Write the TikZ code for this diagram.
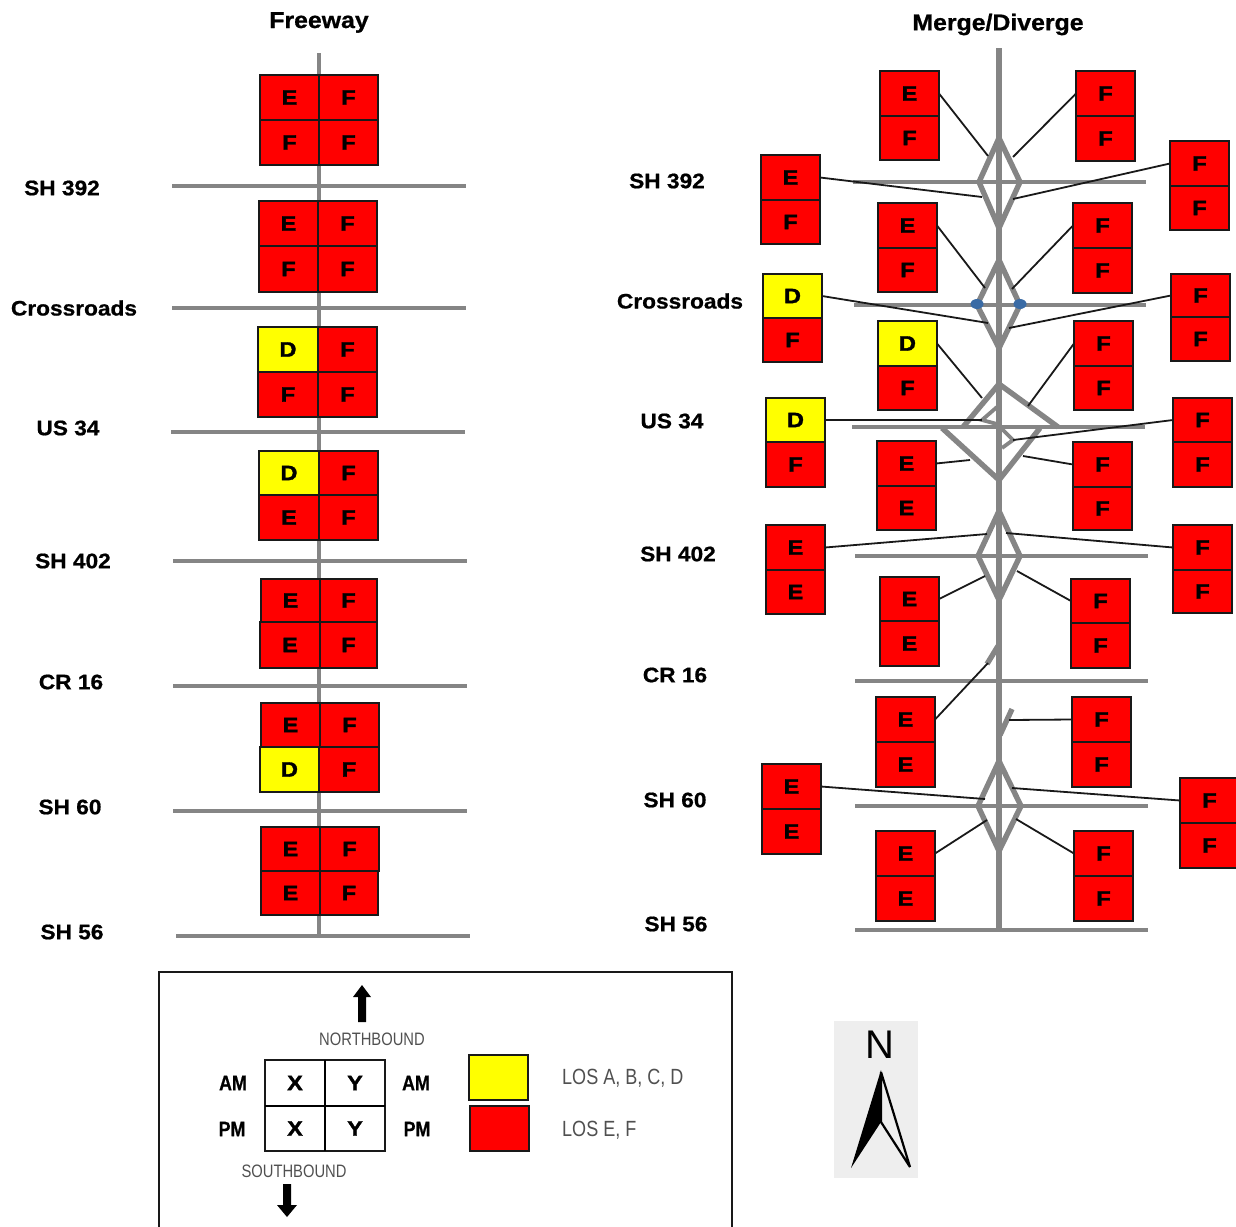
\documentclass[tikz,border=0pt]{standalone}
\usepackage{fontspec}
\setmainfont{Liberation Sans}
\newfontfamily\labfont[FakeStretch=1.08,BoldFeatures={FakeBold=0.8}]{Liberation Sans}
\newfontfamily\cellfont[FakeStretch=1.12,BoldFeatures={FakeBold=1.6}]{Liberation Sans}
\newfontfamily\narrowfont[FakeStretch=0.82]{Liberation Sans}
\newfontfamily\ampmfont[FakeStretch=0.85,BoldFeatures={FakeBold=0.6}]{Liberation Sans}
\definecolor{roadgray}{HTML}{858585}
\definecolor{losred}{HTML}{FF0000}
\definecolor{losyellow}{HTML}{FFFF00}
\definecolor{legendgray}{HTML}{505050}
\definecolor{compassbg}{HTML}{EEEEEE}
\definecolor{dotblue}{HTML}{3A6BA5}
\tikzset{
  road/.style={draw=roadgray,line width=4.8pt},
  ramp/.style={draw=roadgray,line width=5.4pt,line join=miter},
  leader/.style={draw=black!90,line width=1.8pt},
  cellbox/.style={draw=black!90,line width=1.6pt,inner sep=0pt,outer sep=0pt,font=\cellfont\bfseries\fontsize{21}{21}\selectfont},
  title/.style={inner sep=0pt,yshift=-2.5pt,font=\labfont\bfseries\fontsize{23}{24}\selectfont},
  roadlabel/.style={inner sep=0pt,yshift=-1pt,font=\labfont\bfseries\fontsize{21}{22}\selectfont},
  ampm/.style={inner sep=0pt,font=\ampmfont\bfseries\fontsize{21}{22}\selectfont},
  legendtext/.style={inner sep=0pt,text=legendgray,font=\narrowfont\fontsize{18}{20}\selectfont},
  lostext/.style={inner sep=0pt,anchor=west,yshift=-1.5pt,text=legendgray,font=\narrowfont\fontsize{22}{24}\selectfont},
}
% name, x1, y1, x2, y2, fill, letter
\newcommand{\mycell}[7]{%
  \pgfmathsetmacro{\cx}{(#2+#4)/2}\pgfmathsetmacro{\cy}{(#3+#5)/2}%
  \pgfmathsetmacro{\cw}{#4-#2}\pgfmathsetmacro{\ch}{#5-#3}%
  \node[cellbox,fill=#6,minimum width=\cw pt,minimum height=\ch pt] (#1) at (\cx,\cy) {\raisebox{-1pt}{#7}};}
\newcommand{\mypair}[8][losred]{%
  \pgfmathsetmacro{\xr}{#3+59}%
  \mycell{#2t}{#3}{#4}{\xr}{#5}{#1}{#7}%
  \mycell{#2b}{#3}{#5}{\xr}{#6}{losred}{#8}}
\begin{document}
\begin{tikzpicture}[x=1pt,y=-1pt]
\useasboundingbox (0,0) rectangle (1236,1226);
% Titles
\node[title] (tf) at (319,20) {Freeway};
\node[title] (tm) at (998,22) {Merge/Diverge};
% ---- Freeway roads
\draw[road] (319,53) -- (319,938);
\foreach \a/\b/\y in {172/466/186,172/466/308,171/465/432,173/467/561,173/467/686,173/467/811,176/470/936}
  \draw[road] (\a,\y) -- (\b,\y);
% Freeway labels
\node[roadlabel] (l1) at (62,187) {SH 392};
\node[roadlabel] (l2) at (74,307) {Crossroads};
\node[roadlabel] (l3) at (68,427) {US 34};
\node[roadlabel] (l4) at (73,560) {SH 402};
\node[roadlabel] (l5) at (71,681) {CR 16};
\node[roadlabel] (l6) at (70,806) {SH 60};
\node[roadlabel] (l7) at (72,931) {SH 56};
% Freeway cells
\mycell{f1a}{260}{75}{319}{120}{losred}{E}\mycell{f1b}{319}{75}{378}{120}{losred}{F}
\mycell{f1c}{260}{120}{319}{165}{losred}{F}\mycell{f1d}{319}{120}{378}{165}{losred}{F}
\mycell{f2a}{259}{201}{318}{246}{losred}{E}\mycell{f2b}{318}{201}{377}{246}{losred}{F}
\mycell{f2c}{259}{246}{318}{292}{losred}{F}\mycell{f2d}{318}{246}{377}{292}{losred}{F}
\mycell{f3a}{258}{327}{318}{372}{losyellow}{D}\mycell{f3b}{318}{327}{377}{372}{losred}{F}
\mycell{f3c}{258}{372}{318}{417}{losred}{F}\mycell{f3d}{318}{372}{377}{417}{losred}{F}
\mycell{f4a}{259}{451}{319}{495}{losyellow}{D}\mycell{f4b}{319}{451}{378}{495}{losred}{F}
\mycell{f4c}{259}{495}{319}{540}{losred}{E}\mycell{f4d}{319}{495}{378}{540}{losred}{F}
\mycell{f5a}{261}{579}{320}{622}{losred}{E}\mycell{f5b}{320}{579}{377}{622}{losred}{F}
\mycell{f5c}{260}{622}{320}{668}{losred}{E}\mycell{f5d}{320}{622}{377}{668}{losred}{F}
\mycell{f6a}{261}{703}{320}{747}{losred}{E}\mycell{f6b}{320}{703}{379}{747}{losred}{F}
\mycell{f6c}{260}{747}{319}{792}{losyellow}{D}\mycell{f6d}{319}{747}{379}{792}{losred}{F}
\mycell{f7a}{261}{827}{320}{871}{losred}{E}\mycell{f7b}{320}{827}{379}{871}{losred}{F}
\mycell{f7c}{261}{871}{320}{915}{losred}{E}\mycell{f7d}{320}{871}{378}{915}{losred}{F}
% ---- Merge/diverge roads
\draw[road,line width=5.4pt] (999,48) -- (999,930);
\draw[road] (853,182) -- (1146,182);
\draw[road,line width=3.6pt] (854,305) -- (1146,305);
\draw[road] (852,427) -- (1145,427);
\draw[road] (855,556) -- (1148,556);
\draw[road] (855,681) -- (1148,681);
\draw[road] (855,806) -- (1148,806);
\draw[road] (855,930) -- (1148,930);
% Diamonds
\draw[ramp] (999,138) -- (979,182) -- (999,228) -- (1020,182) -- cycle;
\draw[ramp] (999,260) -- (977,305) -- (999,348) -- (1020,305) -- cycle;
\draw[ramp] (963,427) -- (999,384) -- (1058,427);
\draw[ramp] (942,428) -- (999,480) -- (1040,428);
\draw[ramp,line width=3.8pt] (997,407) -- (982,420) -- (997,424);
\draw[ramp,line width=3.8pt] (1001,428) -- (1013,440) -- (1002,448);
\draw[ramp] (999,511) -- (978,556) -- (999,600) -- (1020,556) -- cycle;
\draw[ramp] (998,646) -- (987,664);
\draw[ramp] (1012,709) -- (1000,735);
\draw[ramp] (999,761) -- (978,806) -- (999,851) -- (1021,806) -- cycle;
\fill[dotblue] (977,304) ellipse (6.5pt and 5pt);
\fill[dotblue] (1020,304) ellipse (6.5pt and 5pt);
% Merge/diverge labels
\node[roadlabel] (r1) at (667,180) {SH 392};
\node[roadlabel] (r2) at (680,300) {Crossroads};
\node[roadlabel] (r3) at (672,420) {US 34};
\node[roadlabel] (r4) at (678,553) {SH 402};
\node[roadlabel] (r5) at (675,674) {CR 16};
\node[roadlabel] (r6) at (675,799) {SH 60};
\node[roadlabel] (r7) at (676,923) {SH 56};
% Merge/diverge cells: name, x left, top, mid, bottom, letters
\mypair{a}{880}{71}{116}{160}{E}{F}
\mypair{b}{1076}{71}{116}{161}{F}{F}
\mypair{c}{761}{155}{200}{244}{E}{F}
\mypair{d}{1170}{141}{186}{230}{F}{F}
\mypair{e}{878}{203}{248}{292}{E}{F}
\mypair{g}{1073}{203}{248}{293}{F}{F}
\mypair[losyellow]{h}{763}{274}{318}{362}{D}{F}
\mypair{i}{1171}{274}{317}{361}{F}{F}
\mypair[losyellow]{j}{878}{321}{366}{410}{D}{F}
\mypair{k}{1074}{321}{366}{410}{F}{F}
\mypair[losyellow]{m}{766}{398}{442}{487}{D}{F}
\mypair{n}{1173}{398}{442}{487}{F}{F}
\mypair{o}{877}{441}{486}{530}{E}{E}
\mypair{p}{1073}{442}{487}{530}{F}{F}
\mypair{q}{766}{525}{570}{614}{E}{E}
\mypair{r}{1173}{525}{570}{613}{F}{F}
\mypair{s}{880}{577}{621}{666}{E}{E}
\mypair{u}{1071}{579}{623}{668}{F}{F}
\mypair{v}{876}{697}{742}{787}{E}{E}
\mypair{w}{1072}{697}{742}{787}{F}{F}
\mypair{y}{762}{764}{809}{854}{E}{E}
\mypair{z}{1180}{778}{823}{868}{F}{F}
\mypair{aa}{876}{831}{876}{921}{E}{E}
\mypair{ab}{1074}{831}{876}{921}{F}{F}
% Leader ends
\foreach \n/\x/\y in {pa/988/156,pb/1013/157,pc/982/197,pd/1013/199,pe/985/288,pg/1012/289,
  ph/988/323,pi/1009/328,pj/982/398,pk/1028/406,pm/982/420,pn/1013/440,po/970/460,pp/1023/456,
  pq/987/534,pr/1006/533,ps/985/576,pu/1017/571,pv/988/663,pw/1009/720,py/985/799,pz/1012/788,
  paa/987/820,pab/1016/819}
  \coordinate (\n) at (\x,\y);
\foreach \n in {a,c,e,h,j,m,o,q,s,v,y,aa}
  \draw[leader] (\n t.east) -- (p\n);
\foreach \n in {b,d,g,i,k,n,p,r,u,w,z,ab}
  \draw[leader] (\n t.west) -- (p\n);
% ---- Legend
\node[draw=black!90,line width=1.8pt,inner sep=0pt,minimum width=573pt,minimum height=270pt] (legend) at (445.5,1107) {};
\fill[black] (362,985) -- (371,997) -- (366,997) -- (366,1022) -- (358,1022) -- (358,997) -- (353,997) -- cycle;
\fill[black] (287,1217) -- (277,1205) -- (283,1205) -- (283,1184) -- (291,1184) -- (291,1205) -- (297,1205) -- cycle;
\node[legendtext] (nb) at (372,1039) {NORTHBOUND};
\node[legendtext] (sb) at (294,1171) {SOUTHBOUND};
\node[ampm] (am1) at (233,1083) {AM};
\node[ampm] (pm1) at (232,1129) {PM};
\node[ampm] (am2) at (416,1083) {AM};
\node[ampm] (pm2) at (417,1129) {PM};
\mycell{xa}{265}{1060}{325}{1106}{white}{X}
\mycell{ya}{325}{1060}{385}{1106}{white}{Y}
\mycell{xb}{265}{1106}{325}{1151}{white}{X}
\mycell{yb}{325}{1106}{385}{1151}{white}{Y}
\draw[black,line width=2.8pt] (xa.north east) -- (xb.south east);
\draw[black,line width=2.8pt] (xa.south west) -- (ya.south east);
\mycell{ly}{469}{1055}{528}{1100}{losyellow}{}
\mycell{lr}{470}{1106}{529}{1151}{losred}{}
\node[lostext] (t1) at (562,1077) {LOS A, B, C, D};
\node[lostext] (t2) at (562,1129) {LOS E, F};
% ---- North arrow
\fill[compassbg] (834,1021) rectangle (918,1178);
\node[inner sep=0pt,font=\fontsize{40}{40}\selectfont] (north) at (880,1045) {N};
\fill[black] (881,1070) -- (881,1122) -- (851,1168) -- cycle;
\draw[black,line width=2.2pt,line join=bevel] (881,1072) -- (910,1167) -- (881,1122) -- cycle;
\end{tikzpicture}
\end{document}
